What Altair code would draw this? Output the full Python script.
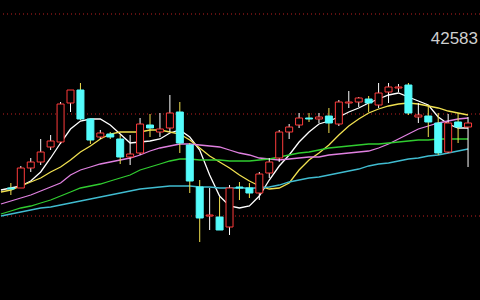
import altair as alt
import pandas as pd

# OHLC values (index 0..46)
opens = [42130, 42130, 42230, 42260, 42335, 42360, 42555, 42620, 42475, 42385,
         42400, 42375, 42285, 42305, 42445, 42410, 42430, 42510, 42345, 42135,
         41990, 41985, 41935, 42135, 42130, 42105, 42205, 42280, 42410, 42445,
         42480, 42475, 42490, 42450, 42555, 42560, 42575, 42545, 42610, 42630,
         42645, 42485, 42490, 42455, 42310, 42460, 42435]
highs = [42155, 42240, 42280, 42375, 42395, 42560, 42620, 42655, 42475, 42420,
         42410, 42395, 42395, 42480, 42500, 42505, 42595, 42560, 42355, 42170,
         42130, 42085, 42145, 42160, 42155, 42210, 42280, 42420, 42450, 42505,
         42505, 42505, 42530, 42570, 42615, 42585, 42590, 42655, 42655, 42650,
         42655, 42555, 42545, 42505, 42500, 42505, 42485]
lows = [42095, 42130, 42210, 42245, 42320, 42350, 42510, 42470, 42350, 42375,
        42375, 42250, 42245, 42295, 42385, 42385, 42410, 42305, 42105, 41860,
        41920, 41920, 41895, 42070, 42080, 42070, 42180, 42260, 42375, 42430,
        42460, 42455, 42405, 42440, 42530, 42535, 42510, 42530, 42555, 42610,
        42495, 42455, 42385, 42295, 42305, 42355, 42235]
closes = [42125, 42230, 42260, 42310, 42365, 42550, 42620, 42475, 42370, 42405,
          42385, 42285, 42300, 42450, 42430, 42425, 42505, 42355, 42165, 41980,
          41995, 41920, 42130, 42130, 42105, 42200, 42260, 42410, 42435, 42480,
          42475, 42485, 42455, 42560, 42560, 42580, 42555, 42605, 42635, 42635,
          42505, 42495, 42460, 42305, 42455, 42435, 42455]

# moving averages; first value belongs to the bar just left of the visible window (index -1)
ma5 = [42120, 42130, 42140, 42165, 42210, 42280, 42355, 42425, 42465, 42475, 42475,
       42445, 42400, 42355, 42360, 42365, 42375, 42405, 42420, 42385, 42320,
       42195, 42090, 42040, 42030, 42040, 42090, 42170, 42240, 42295, 42360,
       42410, 42450, 42465, 42485, 42510, 42530, 42555, 42575, 42595, 42605,
       42585, 42565, 42545, 42485, 42450, 42430, 42430]
ma10 = [42110, 42120, 42140, 42160, 42180, 42210, 42235, 42270, 42310, 42340, 42375,
        42400, 42410, 42410, 42410, 42420, 42420, 42410, 42400, 42370, 42330,
        42290, 42260, 42230, 42195, 42165, 42140, 42125, 42130, 42155, 42220,
        42270, 42305, 42345, 42395, 42440, 42475, 42505, 42525, 42540, 42550,
        42555, 42550, 42540, 42530, 42515, 42505, 42495]
ma20 = [42050, 42065, 42080, 42095, 42115, 42135, 42155, 42195, 42220, 42235, 42250,
        42260, 42270, 42280, 42295, 42315, 42330, 42340, 42350, 42350, 42345,
        42340, 42335, 42320, 42305, 42295, 42280, 42275, 42270, 42275, 42280,
        42285, 42285, 42295, 42300, 42305, 42310, 42315, 42330, 42350, 42375,
        42400, 42425, 42440, 42455, 42465, 42475, 42480]
ma30 = [42000, 42015, 42030, 42040, 42055, 42070, 42090, 42110, 42130, 42140, 42150,
        42165, 42180, 42195, 42220, 42235, 42250, 42265, 42275, 42275, 42270,
        42270, 42270, 42265, 42265, 42265, 42270, 42275, 42285, 42295, 42305,
        42310, 42320, 42330, 42335, 42340, 42345, 42350, 42350, 42355, 42360,
        42365, 42370, 42370, 42375, 42375, 42375, 42375]
ma60 = [41990, 42000, 42010, 42020, 42030, 42035, 42045, 42055, 42065, 42075, 42085,
        42095, 42105, 42115, 42125, 42130, 42135, 42140, 42140, 42140, 42135,
        42135, 42130, 42130, 42130, 42130, 42130, 42135, 42145, 42160, 42170,
        42180, 42185, 42195, 42205, 42215, 42225, 42240, 42250, 42255, 42265,
        42275, 42280, 42290, 42295, 42305, 42315, 42325]

grid_levels = [43000, 42500, 41990]
price_label = "42583"

n = len(opens)
candles = pd.DataFrame({
    "i": list(range(n)),
    "open": opens, "high": highs, "low": lows, "close": closes,
})
candles["dir"] = ["up" if c >= o else "down" for o, c in zip(opens, closes)]

ma_names = ["MA5", "MA10", "MA20", "MA30", "MA60"]
ma_vals = [ma5, ma10, ma20, ma30, ma60]
rows = []
for name, vals in zip(ma_names, ma_vals):
    for k, v in enumerate(vals):
        rows.append({"i": k - 1, "ma": name, "v": v})
ma_df = pd.DataFrame(rows)

xs = alt.Scale(domain=[-0.591, 46.70], nice=False, zero=False)
ys = alt.Scale(domain=[41570, 43070], nice=False, zero=False)
X = alt.X("i:Q", scale=xs, axis=None)

grid = alt.Chart(pd.DataFrame({"g": grid_levels})).mark_rule(
    color="#c02020", strokeDash=[1, 3], strokeWidth=1
).encode(y=alt.Y("g:Q", scale=ys, axis=None))

dir_col = alt.Scale(domain=["up", "down"], range=["#ff3b3b", "#54fcfc"])
fill_col = alt.Scale(domain=["up", "down"], range=["#000000", "#54fcfc"])

wicks = alt.Chart(candles).mark_rule(strokeWidth=1).encode(
    x=X,
    y=alt.Y("low:Q", scale=ys, axis=None),
    y2="high:Q",
    color=alt.Color("dir:N", scale=dir_col, legend=None),
)

bodies = alt.Chart(candles).mark_bar(size=7, strokeWidth=1).encode(
    x=X,
    y=alt.Y("open:Q", scale=ys, axis=None),
    y2="close:Q",
    fill=alt.Fill("dir:N", scale=fill_col, legend=None),
    stroke=alt.Stroke("dir:N", scale=dir_col, legend=None),
)

lines = alt.Chart(ma_df).mark_line(strokeWidth=1.3, clip=True).encode(
    x=X,
    y=alt.Y("v:Q", scale=ys, axis=None),
    color=alt.Color("ma:N", scale=alt.Scale(
        domain=ma_names,
        range=["#ffffff", "#f0e050", "#e080e0", "#30cc30", "#40bcd0"]),
        legend=None),
    detail="ma:N",
)

label = alt.Chart(pd.DataFrame({"t": [price_label]})).mark_text(
    align="right", baseline="alphabetic", fontSize=17,
    font="Liberation Sans", color="#cfcfcf"
).encode(text="t:N", x=alt.value(478), y=alt.value(44))

chart = alt.layer(grid, lines, wicks, bodies, label).properties(
    width=480, height=300, background="#000000", padding=0,
    autosize=alt.AutoSizeParams(type="none")
).configure_view(stroke=None)

chart.save("out.html", embed_options={"renderer": "svg", "actions": False})
